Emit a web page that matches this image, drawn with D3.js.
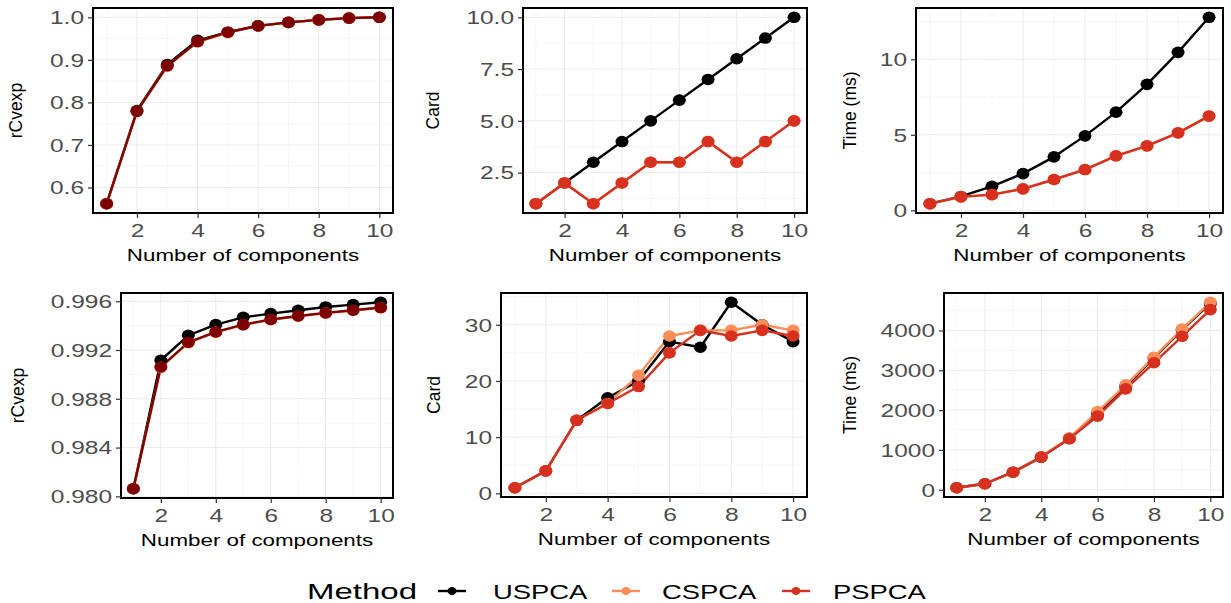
<!DOCTYPE html>
<html>
<head>
<meta charset="utf-8">
<script src="https://cdn.jsdelivr.net/npm/d3@7"></script>
<style>
  body { margin: 0; background: #fff; }
  text { font-family: "Liberation Sans", Arial, sans-serif; }
</style>
</head>
<body>
<div id="chart"></div>
<script>
// data
var components = [1, 2, 3, 4, 5, 6, 7, 8, 9, 10];
var methods = ["USPCA", "CSPCA", "PSPCA"];
var xTicks = [2, 4, 6, 8, 10];

// top row
var rcv1_us = [0.562, 0.781, 0.889, 0.946, 0.965, 0.980, 0.988, 0.994, 0.998, 1.000];
var rcv1_cs = [0.562, 0.779, 0.885, 0.942, 0.964, 0.980, 0.988, 0.994, 0.998, 1.000];
var rcv1_ps = [0.562, 0.779, 0.886, 0.943, 0.965, 0.980, 0.988, 0.994, 0.998, 1.000];
var card1_us = [1, 2, 3, 4, 5, 6, 7, 8, 9, 10];
var card1_cs = [1, 2, 1, 2, 3, 3, 4, 3, 4, 5];
var card1_ps = [1, 2, 1, 2, 3, 3, 4, 3, 4, 5];
var time1_us = [0.44, 0.92, 1.59, 2.43, 3.54, 4.93, 6.50, 8.34, 10.46, 12.78];
var time1_cs = [0.44, 0.89, 1.04, 1.42, 2.04, 2.70, 3.61, 4.27, 5.13, 6.24];
var time1_ps = [0.44, 0.89, 1.04, 1.42, 2.04, 2.70, 3.61, 4.27, 5.13, 6.24];

// bottom row
var rcv2_us = [0.98063, 0.99116, 0.99320, 0.99408, 0.99468, 0.99498, 0.99526, 0.99553, 0.99572, 0.99591];
var rcv2_cs = [0.98063, 0.99058, 0.99260, 0.99345, 0.99406, 0.99448, 0.99477, 0.99502, 0.99524, 0.99546];
var rcv2_ps = [0.98063, 0.99061, 0.99263, 0.99348, 0.99408, 0.99450, 0.99479, 0.99504, 0.99526, 0.99548];
var card2_us = [1, 4, 13, 17, 20, 27, 26, 34, 30, 27];
var card2_cs = [1, 4, 13, 16, 21, 28, 29, 29, 30, 29];
var card2_ps = [1, 4, 13, 16, 19, 25, 29, 28, 29, 28];
var time2_us = [50, 150, 440, 820, 1290, 1920, 2600, 3310, 4020, 4680];
var time2_cs = [50, 150, 440, 830, 1300, 1965, 2635, 3330, 4040, 4710];
var time2_ps = [50, 150, 440, 820, 1280, 1850, 2535, 3190, 3855, 4525];

var yTicks1 = [0.6, 0.7, 0.8, 0.9, 1.0];
var yTicks2 = [2.5, 5.0, 7.5, 10.0];
var yTicks3 = [0, 5, 10];
var yTicks4 = [0.980, 0.984, 0.988, 0.992, 0.996];
var yTicks5 = [0, 10, 20, 30];
var yTicks6 = [0, 1000, 2000, 3000, 4000];

var black = "#000000", orange = "#FC8D59", red = "#D7301F", darkred = "#7F0000";

var width = 1231, height = 603;
var svg = d3.select("#chart").append("svg")
    .attr("width", width)
    .attr("height", height);

// plot boxes [left, top, right, bottom]
var panels = [
  {box: [93, 8, 393, 213], title: "rCvexp", ticks: yTicks1, fmt: ".1f", series: [rcv1_us, rcv1_cs, rcv1_ps], cols: [black, orange, darkred], tx: 16},
  {box: [523, 8, 807, 213], title: "Card", ticks: yTicks2, fmt: ".1f", series: [card1_us, card1_cs, card1_ps], cols: [black, orange, red], tx: 433},
  {box: [916, 8, 1223, 213], title: "Time (ms)", ticks: yTicks3, fmt: "d", series: [time1_us, time1_cs, time1_ps], cols: [black, orange, red], tx: 850},
  {box: [121, 293, 393, 498], title: "rCvexp", ticks: yTicks4, fmt: ".3f", series: [rcv2_us, rcv2_cs, rcv2_ps], cols: [black, orange, darkred], tx: 18},
  {box: [501, 293, 807, 497], title: "Card", ticks: yTicks5, fmt: "d", series: [card2_us, card2_cs, card2_ps], cols: [black, orange, red], tx: 434},
  {box: [944, 293, 1223, 497], title: "Time (ms)", ticks: yTicks6, fmt: "d", series: [time2_us, time2_cs, time2_ps], cols: [black, orange, red], tx: 850}
];

var tickSize = 17.5, tickStretch = 1.4;   // fonts look wide in the original
var titleSize = 16.2, titleStretch = 1.38;

function expand(ext) {
  var d = (ext[1] - ext[0]) * 0.05;
  return [ext[0] - d, ext[1] + d];
}

function minorBreaks(major, dom) {
  var step = major[1] - major[0], out = [];
  for (var v = major[0] - step / 2; v <= dom[1]; v += step) {
    if (v >= dom[0]) out.push(v);
  }
  return out;
}

panels.forEach(function(p) {
  var l = p.box[0], t = p.box[1], r = p.box[2], b = p.box[3];
  var all = [].concat.apply([], p.series);
  var x = d3.scaleLinear().domain(expand([1, 10])).range([l, r]);
  var y = d3.scaleLinear().domain(expand(d3.extent(all))).range([b, t]);

  var g = svg.append("g");

  // grid
  var xMinor = minorBreaks(xTicks, x.domain());
  var yMinor = minorBreaks(p.ticks, y.domain());
  g.selectAll(".gxm").data(xMinor).enter().append("line")
      .attr("x1", x).attr("x2", x).attr("y1", t).attr("y2", b)
      .attr("stroke", "#F4F4F4").attr("stroke-width", 0.6);
  g.selectAll(".gym").data(yMinor).enter().append("line")
      .attr("x1", l).attr("x2", r).attr("y1", y).attr("y2", y)
      .attr("stroke", "#F4F4F4").attr("stroke-width", 0.6);
  g.selectAll(".gx").data(xTicks).enter().append("line")
      .attr("x1", x).attr("x2", x).attr("y1", t).attr("y2", b)
      .attr("stroke", "#EBEBEB").attr("stroke-width", 1);
  g.selectAll(".gy").data(p.ticks).enter().append("line")
      .attr("x1", l).attr("x2", r).attr("y1", y).attr("y2", y)
      .attr("stroke", "#EBEBEB").attr("stroke-width", 1);

  // lines then points, group order
  var line = d3.line()
      .x(function(d, i) { return x(components[i]); })
      .y(function(d) { return y(d); });
  p.series.forEach(function(s, k) {
    g.append("path")
        .datum(s)
        .attr("d", line)
        .attr("fill", "none")
        .attr("stroke", p.cols[k])
        .attr("stroke-width", 2.4)
        .attr("stroke-linejoin", "round");
  });
  p.series.forEach(function(s, k) {
    g.selectAll(null).data(s).enter().append("ellipse")
        .attr("cx", function(d, i) { return x(components[i]); })
        .attr("cy", function(d) { return y(d); })
        .attr("rx", 6.5).attr("ry", 5.8)
        .attr("fill", p.cols[k]);
  });

  // border
  g.append("rect")
      .attr("x", l).attr("y", t)
      .attr("width", r - l).attr("height", b - t)
      .attr("fill", "none").attr("stroke", "#000").attr("stroke-width", 2);

  // axes
  var ax = g.append("g")
      .attr("transform", "translate(0," + b + ")")
      .call(d3.axisBottom(x).tickValues(xTicks).tickSize(5).tickPadding(3).tickFormat(d3.format("d")));
  var ay = g.append("g")
      .attr("transform", "translate(" + l + ",0)")
      .call(d3.axisLeft(y).tickValues(p.ticks).tickSize(5).tickPadding(3).tickFormat(d3.format(p.fmt)));
  [ax, ay].forEach(function(a) {
    a.select(".domain").remove();
    a.selectAll("line").attr("stroke", "#333333").attr("stroke-width", 1.2).attr("transform", null);
    a.selectAll("text")
        .attr("fill", "#4D4D4D")
        .style("font-size", tickSize + "px");
  });
  ax.selectAll("text")
      .attr("y", 24.5).attr("dy", null)
      .attr("transform", "scale(" + tickStretch + ",1)");
  ay.selectAll("text")
      .attr("x", -9 / tickStretch)
      .attr("dy", "0.36em")
      .attr("transform", "scale(" + tickStretch + ",1)");

  // titles
  g.append("text")
      .attr("transform", "translate(" + ((l + r) / 2) + "," + (b + 48) + ") scale(" + titleStretch + ",1)")
      .attr("text-anchor", "middle")
      .style("font-size", titleSize + "px")
      .text("Number of components");
  g.append("text")
      .attr("transform", "translate(" + (p.tx + 6) + "," + ((t + b) / 2) + ") rotate(-90)")
      .attr("text-anchor", "middle")
      .style("font-size", "17.5px")
      .text(p.title);
});

// legend
var legendCols = [black, orange, red];
var keyX = [438, 612, 782];
var labelX = [493, 662, 833];
var legY = 591;
var legend = svg.append("g");
legend.append("text")
    .attr("transform", "translate(307," + (legY + 8) + ") scale(1.5,1)")
    .style("font-size", "22px")
    .text("Method");
methods.forEach(function(m, i) {
  legend.append("line")
      .attr("x1", keyX[i]).attr("x2", keyX[i] + 28)
      .attr("y1", legY).attr("y2", legY)
      .attr("stroke", legendCols[i]).attr("stroke-width", 2.4);
  legend.append("ellipse")
      .attr("cx", keyX[i] + 14).attr("cy", legY)
      .attr("rx", 4.5).attr("ry", 4)
      .attr("fill", legendCols[i]);
  legend.append("text")
      .attr("transform", "translate(" + labelX[i] + "," + (legY + 8) + ") scale(1.37,1)")
      .style("font-size", "20px")
      .text(m);
});
</script>
</body>
</html>
